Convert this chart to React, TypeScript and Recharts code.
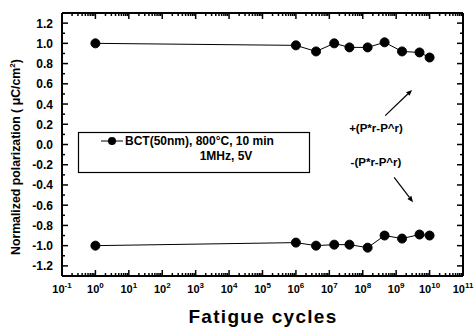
import { LineChart, Line, XAxis, YAxis, ReferenceLine } from 'recharts';

// fatigue cycles and normalized +/- polarization
const CYCLES = [1, 1e6, 4e6, 1.4e7, 4e7, 1.4e8, 4.5e8, 1.5e9, 5e9, 1e10];
const POS_PR = [1.0, 0.98, 0.92, 1.0, 0.96, 0.96, 1.01, 0.92, 0.91, 0.86];
const NEG_PR = [-1.0, -0.97, -1.0, -0.99, -0.99, -1.02, -0.9, -0.93, -0.89, -0.9];

const DECADES = [-1, 0, 1, 2, 3, 4, 5, 6, 7, 8, 9, 10, 11];
const Y_MAJOR = [-1.2, -1.0, -0.8, -0.6, -0.4, -0.2, 0, 0.2, 0.4, 0.6, 0.8, 1.0, 1.2];
const Y_MINOR = [-1.1, -0.9, -0.7, -0.5, -0.3, -0.1, 0.1, 0.3, 0.5, 0.7, 0.9, 1.1];

const FONT = '"Liberation Sans", Arial, sans-serif';

const rows = CYCLES.map((c, i) => ({ cycles: c, pos: POS_PR[i], neg: NEG_PR[i] }));

// major decade ticks + log minor ticks (2..9 x 10^n)
const X_TICKS: number[] = [];
DECADES.forEach(e => {
  X_TICKS.push(Math.pow(10, e));
  if (e < 11) for (let m = 2; m <= 9; m++) X_TICKS.push(m * Math.pow(10, e));
});
const Y_TICKS = [...Y_MAJOR, ...Y_MINOR].sort((a, b) => a - b);

const isDecade = (v: number) => Math.abs(Math.log10(v) - Math.round(Math.log10(v))) < 1e-6;
const isYMajor = (v: number) => Y_MAJOR.some(m => Math.abs(m - v) < 1e-6);

function BottomTick({ x, y, payload }: any) {
  const v = payload.value;
  const major = isDecade(v);
  const e = Math.round(Math.log10(v));
  return (
    <g>
      <line x1={x} x2={x} y1={y} y2={y - (major ? 6 : 3)} stroke="#000" strokeWidth={1.5} />
      {major && (
        <text x={x} y={y + 17} textAnchor="middle" fontFamily={FONT} fontWeight="bold" fontSize={11} fill="#000">
          10<tspan dy={-5} fontSize={8}>{e}</tspan>
        </text>
      )}
    </g>
  );
}

function TopTick({ x, y, payload }: any) {
  const major = isDecade(payload.value);
  return <line x1={x} x2={x} y1={y} y2={y + (major ? 6 : 3)} stroke="#000" strokeWidth={1.5} />;
}

function LeftTick({ x, y, payload }: any) {
  const v = payload.value;
  const major = isYMajor(v);
  return (
    <g>
      <line x1={x} x2={x + (major ? 6 : 3)} y1={y} y2={y} stroke="#000" strokeWidth={1.5} />
      {major && (
        <text x={x - 9} y={y + 4.5} textAnchor="end" fontFamily={FONT} fontWeight="bold" fontSize={12} fill="#000">
          {v.toFixed(1)}
        </text>
      )}
    </g>
  );
}

function RightTick({ x, y, payload }: any) {
  const major = isYMajor(payload.value);
  return <line x1={x} x2={x - (major ? 6 : 3)} y1={y} y2={y} stroke="#000" strokeWidth={1.5} />;
}

/* arrow drawn through the chart scales, head at the second point */
function Arrow(props: any) {
  const { x1, y1, x2, y2 } = props;
  if (x1 == null) return null;
  const ang = Math.atan2(y2 - y1, x2 - x1);
  const L = 6, W = 2.5;
  const bx = x2 - L * Math.cos(ang), by = y2 - L * Math.sin(ang);
  const px = -Math.sin(ang) * W, py = Math.cos(ang) * W;
  return (
    <g>
      <line x1={x1} y1={y1} x2={bx} y2={by} stroke="#000" strokeWidth={1.2} />
      <polygon points={`${x2},${y2} ${bx + px},${by + py} ${bx - px},${by - py}`} fill="#000" />
    </g>
  );
}

const axisLine = { stroke: '#000', strokeWidth: 2 };
const dot = { r: 4.5, fill: '#000', stroke: '#000', strokeWidth: 1 };

export default function App() {
  return (
    <div style={{ position: 'absolute', left: 0, top: 0, width: 475, height: 330, background: '#fff' }}>
      <LineChart width={475} height={330} data={rows} margin={{ top: 10, right: 10, bottom: 24, left: 12 }}>
        <XAxis
          xAxisId="b" dataKey="cycles" type="number" scale="log" domain={[0.1, 1e11]} allowDataOverflow
          ticks={X_TICKS} interval={0} tick={<BottomTick />} tickLine={false} tickSize={0} tickMargin={0}
          axisLine={axisLine} height={30}
        />
        <XAxis
          xAxisId="t" orientation="top" dataKey="cycles" type="number" scale="log" domain={[0.1, 1e11]} allowDataOverflow
          ticks={X_TICKS} interval={0} tick={<TopTick />} tickLine={false} tickSize={0} tickMargin={0}
          axisLine={axisLine} height={3}
        />
        <YAxis
          yAxisId="l" type="number" domain={[-1.3, 1.3]} allowDataOverflow ticks={Y_TICKS} interval={0}
          tick={<LeftTick />} tickLine={false} tickSize={0} tickMargin={0} axisLine={axisLine} width={50}
        />
        <YAxis
          yAxisId="r" orientation="right" type="number" domain={[-1.3, 1.3]} allowDataOverflow ticks={Y_TICKS} interval={0}
          tick={<RightTick />} tickLine={false} tickSize={0} tickMargin={0} axisLine={axisLine} width={2}
        />
        <Line xAxisId="b" yAxisId="l" dataKey="pos" stroke="#000" strokeWidth={1} dot={dot} isAnimationActive={false} />
        <Line xAxisId="b" yAxisId="l" dataKey="neg" stroke="#000" strokeWidth={1} dot={dot} isAnimationActive={false} />
        <ReferenceLine xAxisId="b" yAxisId="l" segment={[{ x: 4.7e8, y: 0.285 }, { x: 3e9, y: 0.54 }]} shape={Arrow} />
        <ReferenceLine xAxisId="b" yAxisId="l" segment={[{ x: 8.7e8, y: -0.325 }, { x: 3.2e9, y: -0.57 }]} shape={Arrow} />
      </LineChart>

      {/* titles, legend box and annotations */}
      <svg width={475} height={330} style={{ position: 'absolute', left: 0, top: 0, pointerEvents: 'none' }}>
        <text
          transform="translate(19.5,255) rotate(-90)" textAnchor="start"
          fontFamily={FONT} fontWeight="bold" fontSize={12.3} fill="#000"
        >
          Normalized polarization ( μC/cm<tspan dy={-5} fontSize={8}>2</tspan><tspan dy={5}>)</tspan>
        </text>
        <text x={263} y={323} textAnchor="middle" fontFamily={FONT} fontWeight="bold" fontSize={19} letterSpacing={1.3} fill="#000">
          Fatigue cycles
        </text>

        <rect x={78.5} y={132.5} width={231} height={40} fill="#fff" stroke="#000" strokeWidth={1.2} />
        <line x1={101} x2={123} y1={141} y2={141} stroke="#000" strokeWidth={1} />
        <circle cx={112} cy={141} r={4} fill="#000" />
        <text x={125} y={145} fontFamily={FONT} fontWeight="bold" fontSize={12} fill="#000">
          BCT(50nm), 800°C, 10 min
        </text>
        <text x={226} y={160} textAnchor="middle" fontFamily={FONT} fontWeight="bold" fontSize={12} fill="#000">
          1MHz, 5V
        </text>

        <text x={376} y={132} textAnchor="middle" fontFamily={FONT} fontWeight="bold" fontSize={11.5} fill="#000">
          +(P*r-P^r)
        </text>
        <text x={376} y={166} textAnchor="middle" fontFamily={FONT} fontWeight="bold" fontSize={11.5} fill="#000">
          -(P*r-P^r)
        </text>
      </svg>
    </div>
  );
}
